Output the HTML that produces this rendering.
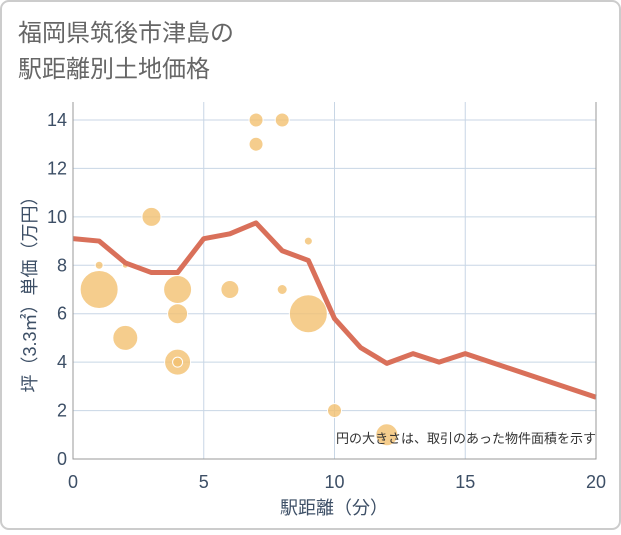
<!DOCTYPE html>
<html><head><meta charset="utf-8"><style>
body{margin:0;background:#fff;font-family:"Liberation Sans","Noto Sans CJK JP",sans-serif;}
svg text{font-family:"Liberation Sans","Noto Sans CJK JP",sans-serif;}
</style></head><body>
<svg id="c" width="621" height="530" xmlns="http://www.w3.org/2000/svg">
<rect x="1" y="1" width="619" height="528" rx="8" fill="#fff" stroke="#ccc" stroke-width="2"/>
<text x="18" y="41" font-size="24" fill="#666">福岡県筑後市津島の</text>
<text x="18" y="77" font-size="24" fill="#666">駅距離別土地価格</text>
<g id="grid"></g>
<g id="bubbles"></g>
<g id="line"></g>
<g id="axes"></g>
<text x="596" y="443" font-size="13" fill="#333" text-anchor="end">円の大きさは、取引のあった物件面積を示す</text>
<text x="334" y="514" font-size="18" fill="#3d4f66" text-anchor="middle">駅距離（分）</text>
<text transform="translate(36,290) rotate(-90)" font-size="18" fill="#3d4f66" text-anchor="middle">坪（3.3㎡）単価（万円）</text>
</svg>
<script>
const xTicks=[0,5,10,15,20];
const yTicks=[0,2,4,6,8,10,12,14];
const lineX=[0,1,2,3,4,5,6,7,8,9,10,11,12,13,14,15,20];
const lineY=[9.1,9.0,8.1,7.7,7.7,9.1,9.3,9.75,8.6,8.2,5.8,4.6,3.95,4.35,4.0,4.35,2.55];
const bubX=[1,1,2,2,3,4,4,4,4,6,7,7,8,8,9,9,10,12];
const bubY=[8,7,8,5,10,7,6,4,4,7,14,13,14,7,9,6,2,1];
const bubR=[4,19,3,12.5,9.5,14,10,13,5,9,7,7,7,5,4,19,7,11];
const NS="http://www.w3.org/2000/svg";
const X0=73,X1=596,Y0=459,Y1=102;
const sx=v=>X0+(X1-X0)*v/20;
const sy=v=>Y0-(459-120)*v/14;
function mk(t,a,p){const e=document.createElementNS(NS,t);for(const k in a)e.setAttribute(k,a[k]);p.appendChild(e);return e;}
const g=document.getElementById('grid');
xTicks.forEach(t=>{if(t>0&&t<20){const l=mk('line',{x1:sx(t),x2:sx(t),y1:Y1,y2:Y0,stroke:'#c8d6e5','stroke-width':1},g);

}});
yTicks.forEach(t=>{if(t>0){const l=mk('line',{x1:X0,x2:X1,y1:sy(t),y2:sy(t),stroke:'#c8d6e5','stroke-width':1},g);

}});
const b=document.getElementById('bubbles');
bubX.forEach((x,i)=>{const c=mk('circle',{cx:sx(x),cy:sy(bubY[i]),r:bubR[i],fill:'#f2c071','fill-opacity':0.8,stroke:'#fff','stroke-width':1},b);

});
const lg=document.getElementById('line');
const p=mk('polyline',{points:lineX.map((x,i)=>sx(x)+','+sy(lineY[i])).join(' '),fill:'none',stroke:'#d9705a','stroke-width':5,'stroke-linejoin':'round'},lg);


const a=document.getElementById('axes');
const ax=mk('path',{d:`M${X0},${Y1}V${Y0}H${X1}V${Y1}`,fill:'none',stroke:'#999','stroke-width':1},a);


xTicks.forEach(t=>{const e=mk('text',{x:sx(t),y:488,'font-size':18,fill:'#3d4f66','text-anchor':'middle'},a);e.textContent=t;

});
yTicks.forEach(t=>{const e=mk('text',{x:67,y:sy(t)+6,'font-size':18,fill:'#3d4f66','text-anchor':'end'},a);e.textContent=t;

});
</script>
</body></html>
